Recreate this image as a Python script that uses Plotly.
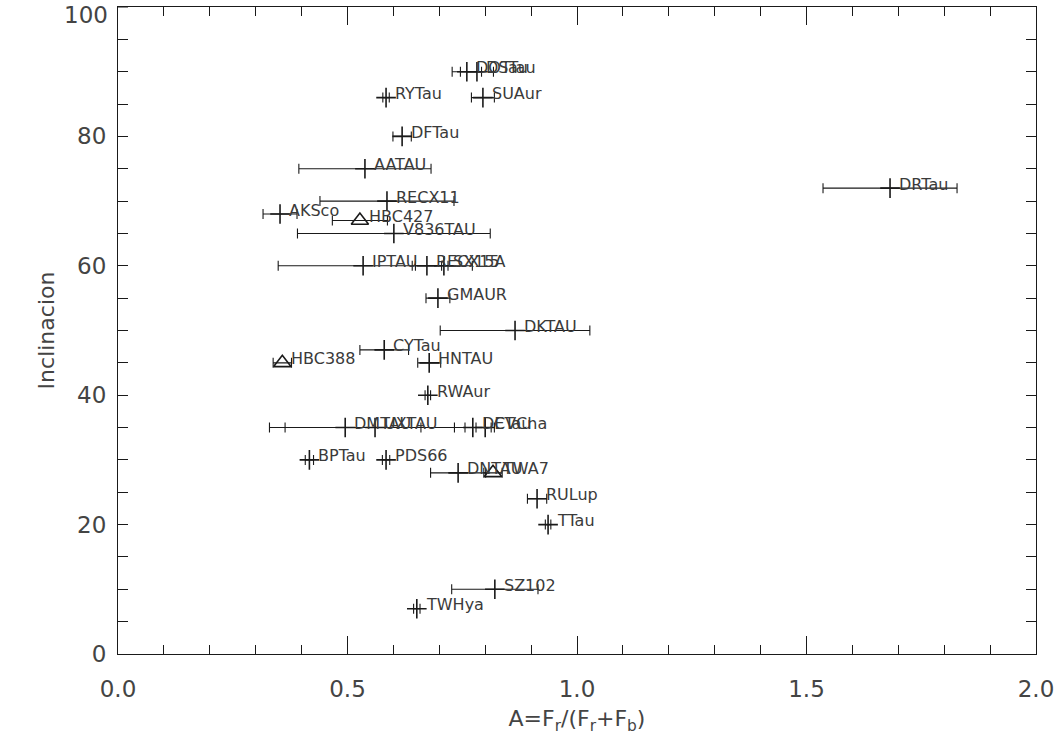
import plotly.graph_objects as go

# Asymmetry A = Fr/(Fr+Fb), its uncertainty and disk inclination for each star
stars = [
    "DOTau", "DSTau", "RYTau", "SUAur", "DFTau", "AATAU", "DRTau", "RECX11",
    "AKSco", "HBC427", "V836TAU", "IPTAU", "RECX15", "SX15A", "GMAUR",
    "DKTAU", "CYTau", "HBC388", "HNTAU", "RWAur", "DMTAU", "UXTAU",
    "DETau", "CVCha", "BPTau", "PDS66", "DNTAU", "TWA7", "RULup", "TTau",
    "SZ102", "TWHya",
]
asym = [
    0.760, 0.782, 0.584, 0.795, 0.619, 0.538, 1.682, 0.586,
    0.353, 0.527, 0.601, 0.534, 0.673, 0.710, 0.697,
    0.865, 0.580, 0.358, 0.678, 0.675, 0.495, 0.560,
    0.773, 0.800, 0.417, 0.584, 0.741, 0.817, 0.913, 0.937,
    0.821, 0.651,
]
asym_err = [
    0.032, 0.036, 0.007, 0.025, 0.020, 0.144, 0.146, 0.146,
    0.037, 0.060, 0.210, 0.185, 0.032, 0.062, 0.026,
    0.163, 0.053, 0.020, 0.025, 0.006, 0.165, 0.196,
    0.040, 0.020, 0.009, 0.008, 0.060, 0.020, 0.021, 0.006,
    0.094, 0.007,
]
incl = [
    90, 90, 86, 86, 80, 75, 72, 70,
    68, 67, 65, 60, 60, 60, 55,
    50, 47, 45, 45, 40, 35, 35,
    35, 35, 30, 30, 28, 28, 24, 20,
    10, 7,
]
triangle_stars = {"HBC427", "HBC388", "TWA7"}

x_ticks = [0.0, 0.5, 1.0, 1.5, 2.0]
y_ticks = [0, 20, 40, 60, 80, 100]
y_tick_text = ["0", "20", "40", "60", "80", "100"]

ink = "#1a1a1a"
text_ink = "#3a3a3a"
label_ink = "#444444"
tick_font = dict(family="DejaVu Sans", size=23, color=label_ink)


def subset(is_triangle):
    idx = [i for i, s in enumerate(stars) if (s in triangle_stars) == is_triangle]
    return ([asym[i] for i in idx], [incl[i] for i in idx], [asym_err[i] for i in idx])


fig = go.Figure()

for is_tri, symbol, size in [(False, "cross-thin", 14), (True, "triangle-up-open", 15)]:
    xs, ys, es = subset(is_tri)
    fig.add_trace(go.Scatter(
        x=xs, y=ys, mode="markers",
        marker=dict(symbol=symbol, size=size, color=ink, line=dict(color=ink, width=1.6)),
        error_x=dict(type="data", array=es, symmetric=True, thickness=1.1, width=5, color=ink),
        showlegend=False, cliponaxis=False,
    ))

for name, xv, yv in zip(stars, asym, incl):
    fig.add_annotation(
        x=xv, y=yv, text=name, showarrow=False, xanchor="left", yanchor="middle",
        xshift=7, yshift=4, font=dict(family="DejaVu Sans", size=16, color=text_ink),
    )

axis_common = dict(
    showline=True, linecolor=ink, linewidth=1, mirror="allticks", ticks="inside",
    tickcolor=ink, tickwidth=1, showgrid=False, zeroline=False, tickfont=tick_font,
)

fig.update_xaxes(
    range=[0, 2], tickvals=x_ticks, tickformat=".1f", ticklen=18,
    minor=dict(dtick=0.1, ticks="inside", ticklen=9, tickcolor=ink, showgrid=False),
    ticklabelstandoff=14,
    title=dict(text="A=F<sub>r</sub>/(F<sub>r</sub>+F<sub>b</sub>)", standoff=10,
               font=dict(family="DejaVu Sans", size=22, color=label_ink)),
    **axis_common,
)
# the top label sits at the very edge of the page, so it is drawn a little lower
fig.update_yaxes(
    range=[0, 100], tickvals=y_ticks[:-1], ticktext=y_tick_text[:-1], ticklen=10,
    minor=dict(dtick=5, ticks="inside", ticklen=10, tickcolor=ink, showgrid=False),
    ticklabelstandoff=6,
    title=dict(text="Inclinacion", standoff=16,
               font=dict(family="DejaVu Sans", size=22, color=label_ink)),
    **axis_common,
)
fig.add_shape(type="line", xref="paper", yref="y", x0=0, x1=10 / 918, y0=y_ticks[-1], y1=y_ticks[-1],
              line=dict(color=ink, width=1))
fig.add_annotation(
    xref="paper", yref="y", x=0, y=y_ticks[-1], text=y_tick_text[-1], showarrow=False,
    xanchor="right", yanchor="middle", xshift=-8, yshift=-8, font=tick_font,
)

fig.update_layout(
    width=1064, height=744,
    margin=dict(l=118, r=28, t=7, b=90),
    paper_bgcolor="white", plot_bgcolor="white",
)

fig.write_html("out.html")
